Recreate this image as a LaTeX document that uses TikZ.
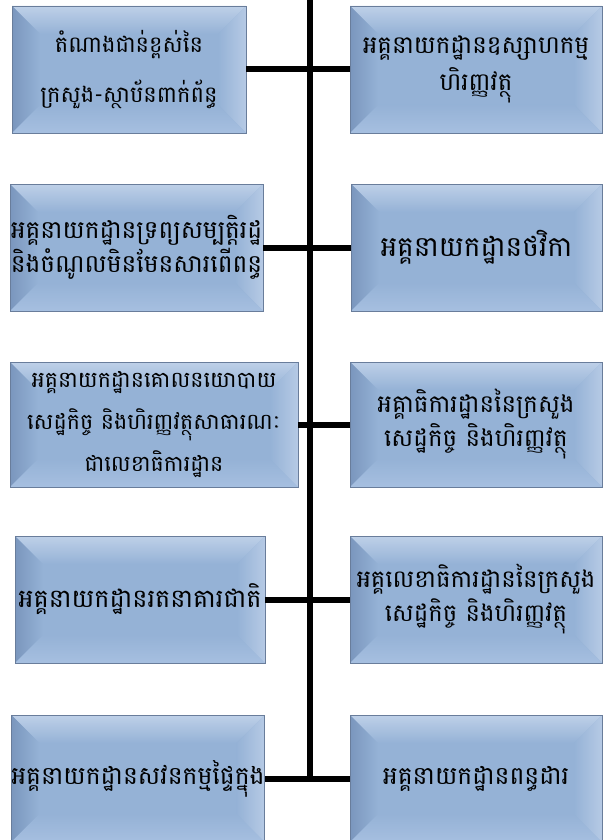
\documentclass[tikz,border=0pt]{standalone}
\usepackage{fontspec}
\newfontfamily\khmer[Script=Khmer]{Battambang}
\usetikzlibrary{calc}
\newcommand\kfnt[2]{\khmer\fontsize{#1}{#2}\selectfont\lineskiplimit=-100pt\relax\lineskip=0pt\relax}
\definecolor{face}{RGB}{149,178,214}
\definecolor{bevtop}{RGB}{190,208,232}
\definecolor{bevleft}{RGB}{122,150,189}
\definecolor{bevright}{RGB}{182,202,229}
\definecolor{bevbot}{RGB}{166,191,224}
\definecolor{edge}{RGB}{105,125,155}
\tikzset{
  bx/.style={draw=edge, line width=0.8pt, fill=face, inner sep=0pt, align=center,
    path picture={
      \coordinate (nw) at (path picture bounding box.north west);
      \coordinate (ne) at (path picture bounding box.north east);
      \coordinate (sw) at (path picture bounding box.south west);
      \coordinate (se) at (path picture bounding box.south east);
      \coordinate (inw) at ($(nw)+(28pt,-28pt)$);
      \coordinate (ine) at ($(ne)+(-28pt,-28pt)$);
      \coordinate (isw) at ($(sw)+(28pt,28pt)$);
      \coordinate (ise) at ($(se)+(-28pt,28pt)$);
      \shade[top color=bevtop, bottom color=face] (nw)--(ne)--(ine)--(inw)--cycle;
      \shade[left color=bevleft, right color=face] (nw)--(inw)--(isw)--(sw)--cycle;
      \shade[left color=face, right color=bevright] (ne)--(ine)--(ise)--(se)--cycle;
      \shade[top color=face, bottom color=bevbot] (sw)--(isw)--(ise)--(se)--cycle;
    }},
  link/.style={line width=6pt, black}
}
\begin{document}
\begin{tikzpicture}[x=1pt,y=1pt]
\useasboundingbox (0,0) rectangle (606,-840);
\clip (0,0) rectangle (606,-840);
% left column
\node[bx, font=\kfnt{22.6}{50}, minimum width=234pt, minimum height=127pt] (L1) at (129,-69.5) {តំណាងជាន់ខ្ពស់នៃ\\ក្រសួង-ស្ថាប័នពាក់ព័ន្ធ};
\node[bx, font=\kfnt{24.8}{34}, minimum width=253pt, minimum height=127pt] (L2) at (136.5,-247.5) {អគ្គនាយកដ្ឋានទ្រព្យសម្បត្តិរដ្ឋ\\និងចំណូលមិនមែនសារពើពន្ធ};
\node[bx, font=\kfnt{22.2}{42}, minimum width=288pt, minimum height=125pt] (L3) at (154,-424.5) {អគ្គនាយកដ្ឋានគោលនយោបាយ\\សេដ្ឋកិច្ច និងហិរញ្ញវត្ថុសាធារណៈ\\ជាលេខាធិការដ្ឋាន};
\node[bx, font=\kfnt{25.5}{30}, minimum width=250pt, minimum height=127pt] (L4) at (140,-599.5) {អគ្គនាយកដ្ឋានរតនាគារជាតិ};
\node[bx, font=\kfnt{25}{30}, minimum width=252pt, minimum height=127pt] (L5) at (138,-778.5) {អគ្គនាយកដ្ឋានសវនកម្មផ្ទៃក្នុង};
% right column
\node[bx, font=\kfnt{24.5}{37}, minimum width=252pt, minimum height=127pt] (R1) at (476,-69.5) {អគ្គនាយកដ្ឋានឧស្សាហកម្ម\\ហិរញ្ញវត្ថុ};
\node[bx, font=\kfnt{28}{30}, minimum width=251pt, minimum height=127pt] (R2) at (476.5,-247.5) {អគ្គនាយកដ្ឋានថវិកា};
\node[bx, font=\kfnt{24.5}{34}, minimum width=252pt, minimum height=125pt] (R3) at (476,-424.5) {អគ្គាធិការដ្ឋាននៃក្រសួង\\សេដ្ឋកិច្ច និងហិរញ្ញវត្ថុ};
\node[bx, font=\kfnt{24.3}{34}, minimum width=252pt, minimum height=127pt] (R4) at (476,-599.5) {អគ្គលេខាធិការដ្ឋាននៃក្រសួង\\សេដ្ឋកិច្ច និងហិរញ្ញវត្ថុ};
\node[bx, font=\kfnt{25}{30}, minimum width=252pt, minimum height=127pt] (R5) at (476,-778.5) {អគ្គនាយកដ្ឋានពន្ធដារ};
% spine
\coordinate (s0) at (310,0);
\coordinate (s5) at (310,-781.5);
\draw[link] (s0) -- (s5);
\draw[link] (L1.east) -- (R1.west);
\draw[link] (L2.east) -- (R2.west);
\draw[link] (L3.east) -- (R3.west);
\draw[link] (L4.east) -- (R4.west);
\draw[link] (L5.east) -- (R5.west);
\end{tikzpicture}
\end{document}
